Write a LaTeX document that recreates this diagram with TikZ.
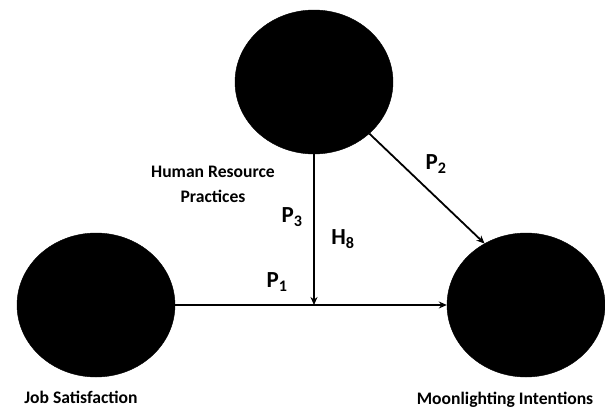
\documentclass[tikz,border=0pt]{standalone}
\usepackage{fontspec}
\setmainfont{Carlito}
\usetikzlibrary{arrows.meta,shapes.geometric}
\tikzset{
  construct/.style={ellipse, fill=black, draw=black, minimum width=158pt, minimum height=144pt, inner sep=0pt},
  path/.style={line width=1.8pt, -{Stealth[length=8pt,width=7pt]}},
  caption/.style={font=\bfseries\fontsize{17.6}{25}\selectfont, align=center},
  plabel/.style={font=\bfseries\fontsize{23}{26}\selectfont}
}
\begin{document}
\begin{tikzpicture}[x=1pt,y=-1pt]
  \useasboundingbox (0,0) rectangle (605,410);
  % constructs
  \node[construct] (hr) at (314,82) {};
  \node[construct] (js) at (96,305) {};
  \node[construct] (mi) at (526,305) {};
  % captions
  \node[caption] (hrcap) at (213,184) {Human Resource\\Practices};
  \node[caption] (jscap) at (81,397) {Job Satisfaction};
  \node[caption] (micap) at (505,400) {Moonlighting Intentions};
  % paths
  \draw[path] (js.east) -- (mi.west);
  \coordinate (mod) at (hr.south |- js.east);
  \draw[path] (hr.south) -- (mod);
  \draw[path] (hr.-43.5) -- (mi.124);
  % path labels
  \node[plabel] (p1) at (277,282) {P\textsubscript{1}};
  \node[plabel] (p2) at (436,164) {P\textsubscript{2}};
  \node[plabel] (p3) at (292,217) {P\textsubscript{3}};
  \node[plabel] (h8) at (343,239) {H\textsubscript{8}};
\end{tikzpicture}
\end{document}
